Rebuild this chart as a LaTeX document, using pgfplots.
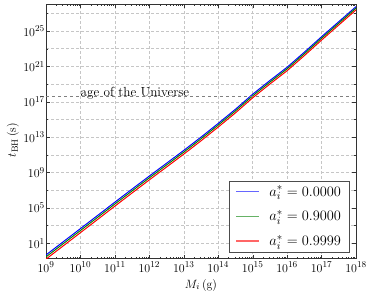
\documentclass[border=0pt]{standalone}
\usepackage{pgfplots}
\pgfplotsset{compat=1.18}
\definecolor{mgreen}{rgb}{0,0.5,0}
\begin{document}
\begin{tikzpicture}
\begin{axis}[name=ax,
  xmode=log, ymode=log,
  scale only axis, width=310pt, height=254.5pt,
  xmin=1e9, xmax=1e18, ymin=0.19, ymax=1.12e28,
  xtick={1e9,1e10,1e11,1e12,1e13,1e14,1e15,1e16,1e17,1e18},
  ytick={1e1,1e5,1e9,1e13,1e17,1e21,1e25},
  minor ytick={1e3,1e7,1e11,1e15,1e19,1e23,1e27},
  xmajorgrids, ymajorgrids, yminorgrids,
  major grid style={densely dashed, gray!45, line width=0.4pt},
  minor grid style={densely dashed, gray!45, line width=0.4pt},
  axis line style={black!80},
  tick style={black!80},
  major tick length=4pt, minor tick length=2pt,
  ticklabel style={font=\fontsize{12.7}{15}\selectfont},
  yticklabel style={inner sep=1pt},
  label style={font=\fontsize{13}{15}\selectfont},
  xlabel={$M_i\,(\mathrm{g})$},
  ylabel={$t_{\mathrm{BH}}\,(\mathrm{s})$},
  ylabel style={at={(ticklabel cs:0.465)}},
  legend style={at={(0.978,0.024)}, anchor=south east, draw=black!70,
    font=\fontsize{15.5}{18}\selectfont, row sep=9pt, column sep=8pt,
    inner xsep=6pt, inner ysep=3pt},
  legend image post style={xscale=1.3, line width=1.6pt, opacity=0.6},
  legend cell align=left,
]
\addplot[color=blue, line width=1pt] coordinates {
(1e9,0.479) (3.162e9,14.8) (1e10,457) (3.162e10,1.41e4) (1e11,4.47e5)
(3.162e11,1.35e7) (1e12,3.98e8) (3.162e12,1.12e10) (1e13,3.16e11)
(3.162e13,1e13) (1e14,3.55e14) (3.162e14,1.41e16) (1e15,7.08e17)
(3.162e15,2.51e19) (1e16,7.94e20) (3.162e16,3.98e22) (1e17,2.24e24)
(3.162e17,1.12e26) (1e18,5.62e27)};
\addlegendentry{$a_i^* = 0.0000$}
\addplot[color=mgreen, line width=1pt] coordinates {
(1e9,0.288) (3.162e9,8.97) (1e10,279) (3.162e10,8670) (1e11,2.76e5)
(3.162e11,8.39e6) (1e12,2.49e8) (3.162e12,7.06e9) (1e13,2.00e11)
(3.162e13,6.38e12) (1e14,2.28e14) (3.162e14,9.14e15) (1e15,4.60e17)
(3.162e15,1.64e19) (1e16,5.24e20) (3.162e16,2.64e22) (1e17,1.49e24)
(3.162e17,7.54e25) (1e18,3.80e27)};
\addlegendentry{$a_i^* = 0.9000$}
\addplot[color=red, line width=1pt] coordinates {
(1e9,0.162) (3.162e9,5.08) (1e10,159) (3.162e10,4980) (1e11,1.59e5)
(3.162e11,4.88e6) (1e12,1.46e8) (3.162e12,4.16e9) (1e13,1.19e11)
(3.162e13,3.80e12) (1e14,1.37e14) (3.162e14,5.51e15) (1e15,2.80e17)
(3.162e15,1.00e19) (1e16,3.22e20) (3.162e16,1.63e22) (1e17,9.31e23)
(3.162e17,4.72e25) (1e18,2.40e27)};
\addlegendentry{$a_i^* = 0.9999$}
\addplot[gray, dashed, line width=0.6pt, forget plot] coordinates {(1e9,4.35e17) (1e18,4.35e17)};
\node[anchor=base west, inner sep=0pt, font=\fontsize{13.2}{15}\selectfont] at (axis cs:1e10,4.35e17) {age of the Universe};
\end{axis}
\pgfresetboundingbox
\path[use as bounding box] ([xshift=-46pt,yshift=-39.5pt]ax.south west) rectangle ([xshift=18pt,yshift=4pt]ax.north east);
\end{tikzpicture}
\end{document}
